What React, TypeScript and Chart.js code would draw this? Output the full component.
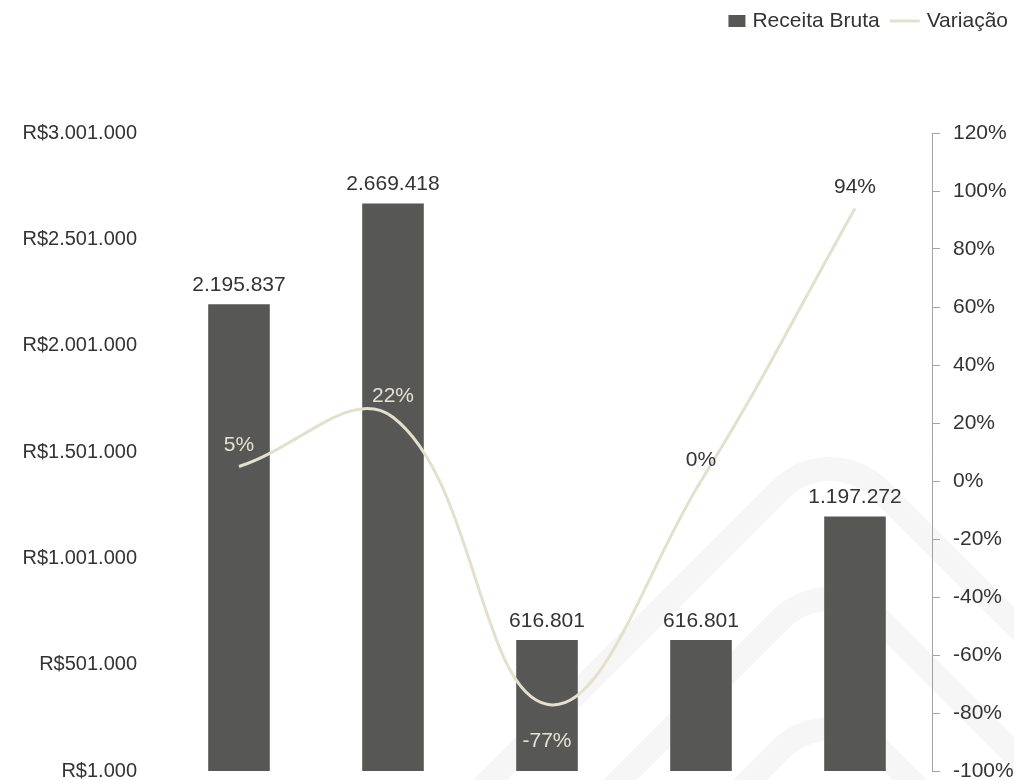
import { useEffect, useRef } from "react";
import { Chart, registerables } from "chart.js";

Chart.register(...registerables);

const categories = ["Período 1", "Período 2", "Período 3", "Período 4", "Período 5"];
const receitaBruta = [2195837, 2669418, 616801, 616801, 1197272];
const variacao = [5, 22, -77, 0, 94];
const leftAxisRange = [1000, 3001000];
const leftAxisStep = 500000;
const rightAxisRange = [-100, 120];
const rightAxisStep = 20;
const seriesNames = ["Receita Bruta", "Variação"];

const FONT = "'Liberation Sans', Arial, sans-serif";
const BAR_COLOR = "#575756";
const LINE_COLOR = "#e3e0cd";
const TEXT_COLOR = "#333333";
const LIGHT_TEXT = "#e4e1d6";
const AXIS_COLOR = "#a3a3a3";
const WATERMARK_COLOR = "#f6f6f6";

const fmtThousands = (v: number) =>
  Math.round(v)
    .toString()
    .replace(/\B(?=(\d{3})+(?!\d))/g, ".");

const watermarkPlugin = {
  id: "watermark",
  beforeDraw(chart: any) {
    const ctx = chart.ctx;
    ctx.save();
    ctx.strokeStyle = WATERMARK_COLOR;
    ctx.lineWidth = 24;
    ctx.lineJoin = "round";
    ctx.lineCap = "round";
    const apexX = 830;
    [440, 570, 700].forEach((apexY) => {
      ctx.beginPath();
      ctx.moveTo(apexX - 360, apexY + 360);
      ctx.arcTo(apexX, apexY, apexX + 360, apexY + 360, 70);
      ctx.lineTo(apexX + 360, apexY + 360);
      ctx.stroke();
    });
    ctx.restore();
  },
};

const labelPlugin = {
  id: "valueLabels",
  afterDatasetsDraw(chart: any) {
    const ctx = chart.ctx;
    ctx.save();
    ctx.font = `21px ${FONT}`;
    ctx.textAlign = "center";
    ctx.textBaseline = "middle";
    const barMeta = chart.getDatasetMeta(0);
    barMeta.data.forEach((el: any, i: number) => {
      ctx.fillStyle = TEXT_COLOR;
      ctx.fillText(fmtThousands(receitaBruta[i]), el.x, el.y - 19);
    });
    const lineMeta = chart.getDatasetMeta(1);
    lineMeta.data.forEach((el: any, i: number) => {
      const v = variacao[i];
      const overBar = el.y > barMeta.data[i].y;
      ctx.fillStyle = overBar ? LIGHT_TEXT : TEXT_COLOR;
      const dy = v < 0 ? 37 : -21;
      ctx.fillText(`${v}%`, el.x, el.y + dy);
    });
    ctx.restore();
  },
};

const legendPlugin = {
  id: "customLegend",
  afterDraw(chart: any) {
    const ctx = chart.ctx;
    ctx.save();
    ctx.font = `21px ${FONT}`;
    ctx.textBaseline = "middle";
    ctx.textAlign = "left";
    const y = 21;
    const right = 1008;
    const w2 = ctx.measureText(seriesNames[1]).width;
    const t2x = right - w2;
    const lineEnd = t2x - 7;
    const lineStart = lineEnd - 30;
    const w1 = ctx.measureText(seriesNames[0]).width;
    const t1x = lineStart - 10 - w1;
    const boxRight = t1x - 7;
    ctx.fillStyle = BAR_COLOR;
    ctx.fillRect(boxRight - 17, y - 6, 17, 12);
    ctx.fillStyle = TEXT_COLOR;
    ctx.fillText(seriesNames[0], t1x, y);
    ctx.strokeStyle = LINE_COLOR;
    ctx.lineWidth = 3;
    ctx.beginPath();
    ctx.moveTo(lineStart, y);
    ctx.lineTo(lineEnd, y);
    ctx.stroke();
    ctx.fillStyle = TEXT_COLOR;
    ctx.fillText(seriesNames[1], t2x, y);
    ctx.restore();
  },
};

export default function App() {
  const ref = useRef<HTMLCanvasElement>(null);
  useEffect(() => {
    if (!ref.current) return;
    const chart = new Chart(ref.current, {
      type: "bar",
      data: {
        labels: categories,
        datasets: [
          {
            type: "bar",
            label: seriesNames[0],
            data: receitaBruta,
            backgroundColor: BAR_COLOR,
            barPercentage: 0.5,
            categoryPercentage: 0.8,
            yAxisID: "y",
            order: 2,
          },
          {
            type: "line",
            label: seriesNames[1],
            data: variacao,
            borderColor: LINE_COLOR,
            borderWidth: 3,
            tension: 0.4,
            pointRadius: 0,
            fill: false,
            yAxisID: "y1",
            order: 1,
          } as any,
        ],
      },
      options: {
        responsive: false,
        animation: false,
        layout: { padding: { top: 133, bottom: 9, left: 0, right: 0 } },
        plugins: { legend: { display: false }, tooltip: { enabled: false } },
        scales: {
          x: { display: false },
          y: {
            position: "left",
            min: leftAxisRange[0],
            max: leftAxisRange[1],
            grid: { display: false, drawTicks: false },
            border: { display: false },
            ticks: {
              stepSize: leftAxisStep,
              padding: 25,
              color: TEXT_COLOR,
              font: { family: FONT, size: 20 },
              callback: (v: any) => "R$" + fmtThousands(Number(v)),
            },
            afterFit: (s: any) => {
              s.width = 162;
              s.paddingTop = 0;
              s.paddingBottom = 0;
            },
          },
          y1: {
            position: "right",
            min: rightAxisRange[0],
            max: rightAxisRange[1],
            grid: { drawOnChartArea: false, drawTicks: true, tickLength: 8, color: AXIS_COLOR },
            border: { display: true, color: AXIS_COLOR },
            ticks: {
              stepSize: rightAxisStep,
              padding: 13,
              color: TEXT_COLOR,
              font: { family: FONT, size: 21 },
              callback: (v: any) => `${v}%`,
            },
            afterFit: (s: any) => {
              s.width = 82;
              s.paddingTop = 0;
              s.paddingBottom = 0;
            },
          },
        },
      },
      plugins: [watermarkPlugin, labelPlugin, legendPlugin],
    });
    return () => chart.destroy();
  }, []);
  return (
    <div style={{ position: "absolute", left: 0, top: 0, width: 1014, height: 780 }}>
      <canvas ref={ref} width={1014} height={780} style={{ display: "block" }} />
    </div>
  );
}
